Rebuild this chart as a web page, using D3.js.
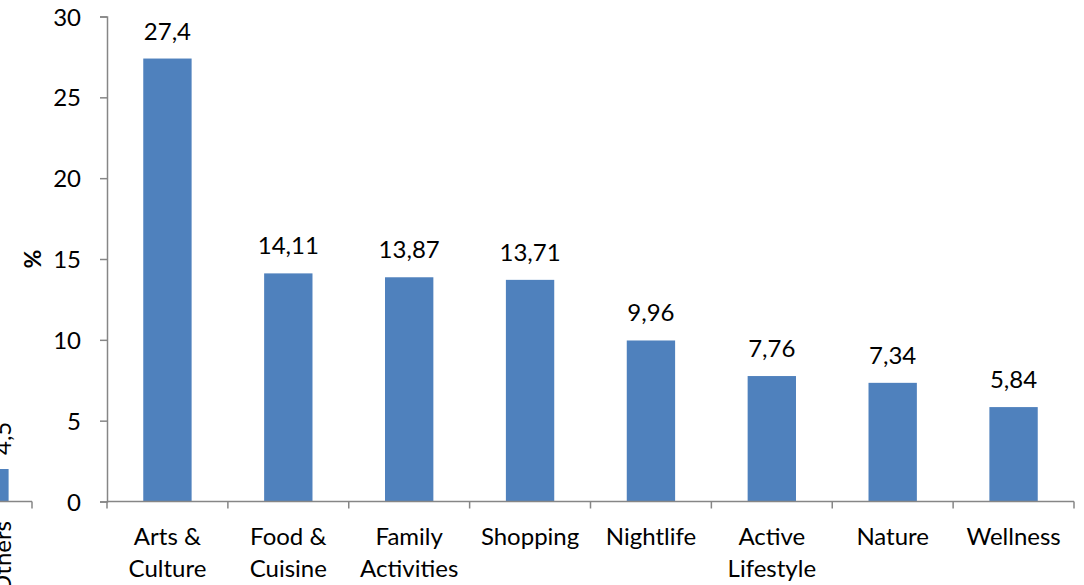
<!DOCTYPE html>
<html>
<head>
<meta charset="utf-8">
<script src="https://cdn.jsdelivr.net/npm/d3@7"></script>
<style>
  html, body { margin: 0; padding: 0; background: #fff; }
  svg { display: block; font-family: Lato, "Open Sans", sans-serif; }
</style>
</head>
<body>
<svg id="chart" width="1084" height="585"></svg>
<script>
// ---- data ----
const categories = ["Arts & Culture", "Food & Cuisine", "Family Activities", "Shopping", "Nightlife", "Active Lifestyle", "Nature", "Wellness"];
const categoryLines = [["Arts &", "Culture"], ["Food &", "Cuisine"], ["Family", "Activities"], ["Shopping"], ["Nightlife"], ["Active", "Lifestyle"], ["Nature"], ["Wellness"]];
const values = [27.4, 14.11, 13.87, 13.71, 9.96, 7.76, 7.34, 5.84];
const valueLabels = ["27,4", "14,11", "13,87", "13,71", "9,96", "7,76", "7,34", "5,84"];
const yTicks = [0, 5, 10, 15, 20, 25, 30];
const yTitle = "%";
// fragment of a neighbouring chart at the left edge
const fragCategories = ["Others"];
const fragValues = [4.5];
const fragLabels = ["4,5"];

const barColor = "#4F81BD";
const axisColor = "#868686";
const fontSize = 24;

const svg = d3.select("#chart");

// ---- main chart ----
const x = d3.scaleBand().domain(categories).range([107, 1074]).paddingInner(0.6).paddingOuter(0.3);
const y = d3.scaleLinear().domain([0, 30]).range([501.5, 16.5]);

// y axis
const yAxis = d3.axisLeft(y).tickValues(yTicks).tickSize(7).tickPadding(19).tickFormat(d => String(d));
const gy = svg.append("g").attr("transform", "translate(107,0)").call(yAxis);
gy.select(".domain").attr("stroke", axisColor).attr("stroke-width", 1.5);
gy.selectAll(".tick line").attr("stroke", axisColor).attr("stroke-width", 1.5);
gy.selectAll(".tick text").attr("fill", "#000").attr("font-size", fontSize).attr("font-family", "Lato, 'Open Sans', sans-serif").attr("dy", "0.36em");

// bars
svg.append("g").selectAll("rect").data(values).join("rect")
  .attr("x", (d, i) => x(categories[i]))
  .attr("width", x.bandwidth())
  .attr("y", d => y(d))
  .attr("height", d => y(0) - y(d))
  .attr("fill", barColor);

// value labels
svg.append("g").selectAll("text").data(values).join("text")
  .attr("x", (d, i) => x(categories[i]) + x.bandwidth() / 2)
  .attr("y", d => y(d) - 19)
  .attr("text-anchor", "middle")
  .attr("font-size", fontSize)
  .attr("fill", "#000")
  .text((d, i) => valueLabels[i]);

// x axis line + ticks at band boundaries
const xStart = 107, xEnd = 1074;
svg.append("line").attr("x1", xStart).attr("x2", xEnd).attr("y1", y(0)).attr("y2", y(0))
  .attr("stroke", axisColor).attr("stroke-width", 1.5);
const boundaries = d3.range(categories.length + 1).map(i => xStart + i * (xEnd - xStart) / categories.length);
svg.append("g").selectAll("line").data(boundaries).join("line")
  .attr("x1", d => d).attr("x2", d => d)
  .attr("y1", y(0)).attr("y2", y(0) + 7)
  .attr("stroke", axisColor).attr("stroke-width", 1.5);

// category labels
const cl = svg.append("g").selectAll("text").data(categories).join("text")
  .attr("text-anchor", "middle")
  .attr("font-size", fontSize)
  .attr("fill", "#000")
  .attr("transform", d => `translate(${x(d) + x.bandwidth() / 2},545)`);
cl.each(function(d, i) {
  const t = d3.select(this);
  categoryLines[i].forEach((line, j) => {
    t.append("tspan").attr("x", 0).attr("y", j * 32).text(line);
  });
});

// y title
svg.append("text")
  .attr("transform", `translate(41,${(y(0) + y(30)) / 2}) rotate(-90)`)
  .attr("text-anchor", "middle")
  .attr("font-size", 23)
  .attr("font-weight", "bold")
  .attr("fill", "#000")
  .text(yTitle);

// ---- fragment at the left edge ----
const xf = d3.scaleBand().domain(fragCategories).range([-46, 32]).paddingInner(0.6).paddingOuter(0.125);
const yf = d3.scaleLinear().domain([0, 4.5]).range([501.5, 469]);
svg.append("g").selectAll("rect").data(fragValues).join("rect")
  .attr("x", (d, i) => xf(fragCategories[i]))
  .attr("width", xf.bandwidth())
  .attr("y", d => yf(d))
  .attr("height", d => yf(0) - yf(d))
  .attr("fill", barColor);
svg.append("line").attr("x1", -46).attr("x2", 32).attr("y1", yf(0)).attr("y2", yf(0))
  .attr("stroke", axisColor).attr("stroke-width", 1.5);
svg.append("line").attr("x1", 32).attr("x2", 32).attr("y1", yf(0)).attr("y2", yf(0) + 7)
  .attr("stroke", axisColor).attr("stroke-width", 1.5);
svg.append("g").selectAll("text").data(fragValues).join("text")
  .attr("transform", (d, i) => `translate(${xf(fragCategories[i]) + xf.bandwidth() + 2},${yf(d) - 14}) rotate(-90)`)
  .attr("text-anchor", "start")
  .attr("font-size", fontSize)
  .attr("fill", "#000")
  .text((d, i) => fragLabels[i]);
svg.append("g").selectAll("text").data(fragCategories).join("text")
  .attr("transform", d => `translate(${xf(d) + xf.bandwidth() + 2},521) rotate(-90)`)
  .attr("text-anchor", "end")
  .attr("font-size", fontSize)
  .attr("fill", "#000")
  .text(d => d);
</script>
</body>
</html>
